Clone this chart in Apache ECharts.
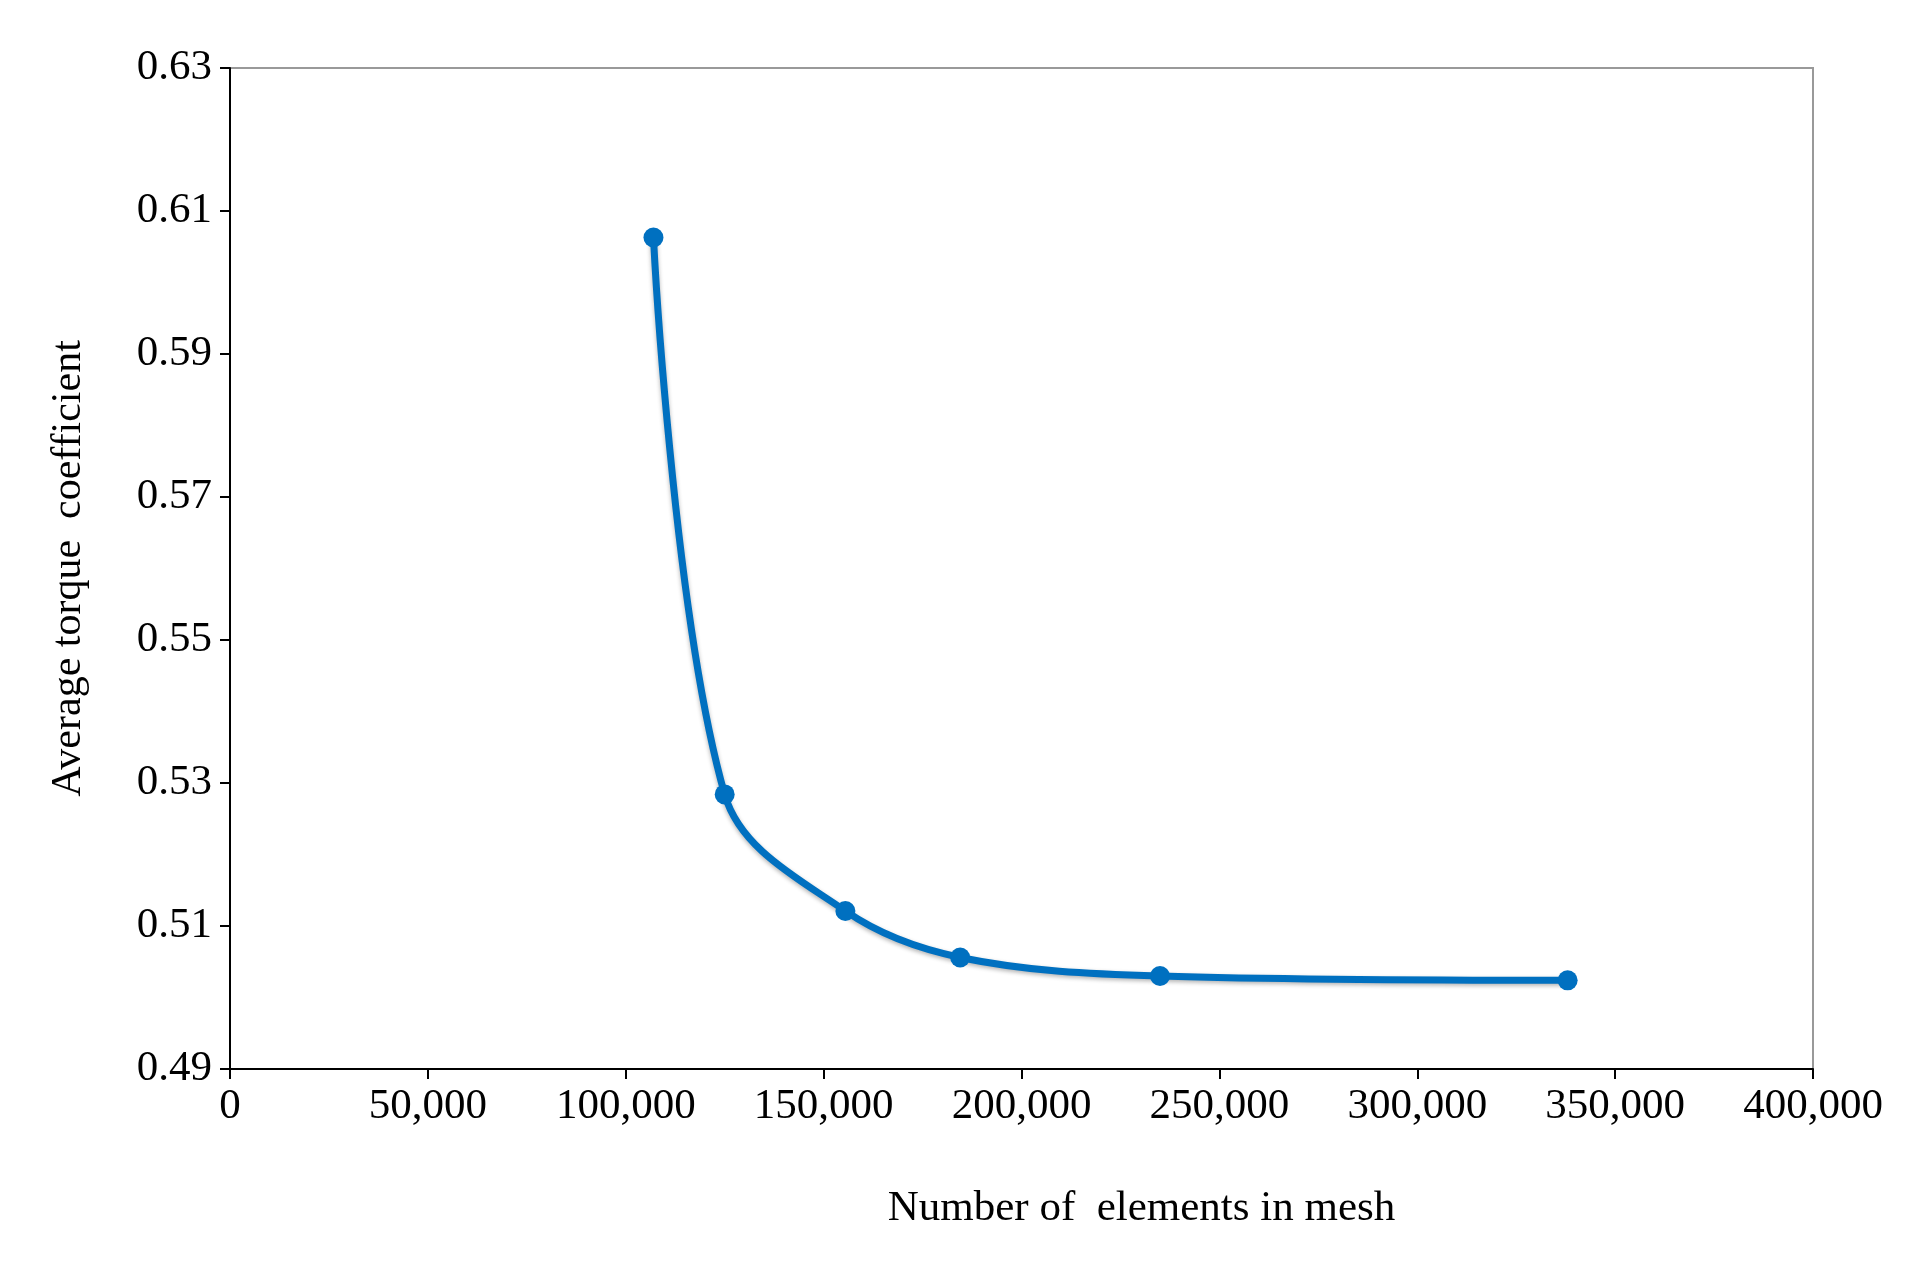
<!DOCTYPE html>
<html><head><meta charset="utf-8">
<script src="https://cdn.jsdelivr.net/npm/echarts@6/dist/echarts.min.js"></script>
<style>html,body{margin:0;padding:0;background:#fff}#c{width:1931px;height:1262px}</style>
</head><body><div id="c"></div>
<script>
const elements = [107000, 125000, 155500, 184500, 235000, 338000];
const torque = [0.6063, 0.5284, 0.5121, 0.5056, 0.5030, 0.5024];
const xTicks = {min: 0, max: 400000, interval: 50000};
const yTicks = {min: 0.49, max: 0.63, interval: 0.02};
const font = 'Liberation Serif';
const chart = echarts.init(document.getElementById('c'));
chart.setOption({
  backgroundColor: '#fff',
  grid: {left: 230, right: 118, top: 68, bottom: 193, show: true, borderColor: '#999', borderWidth: 2},
  xAxis: {
    type: 'value', min: xTicks.min, max: xTicks.max, interval: xTicks.interval,
    name: 'Number of  elements in mesh', nameLocation: 'middle', nameGap: 118,
    nameTextStyle: {fontFamily: font, fontSize: 43, color: '#000', padding: [0, 0, 0, 240]},
    axisLine: {lineStyle: {color: '#000', width: 2}},
    axisTick: {show: true, length: 10, lineStyle: {color: '#000', width: 2}},
    splitLine: {show: false},
    axisLabel: {fontFamily: font, fontSize: 43, color: '#000', margin: 16,
      formatter: v => v.toLocaleString('en-US')}
  },
  yAxis: {
    type: 'value', min: yTicks.min, max: yTicks.max, interval: yTicks.interval,
    name: 'Average torque  coefficient', nameLocation: 'middle', nameGap: 140,
    nameTextStyle: {fontFamily: font, fontSize: 42, color: '#000'},
    axisLine: {show: true, lineStyle: {color: '#000', width: 2}},
    axisTick: {show: true, length: 10, lineStyle: {color: '#000', width: 2}},
    splitLine: {show: false},
    axisLabel: {fontFamily: font, fontSize: 43, color: '#000', margin: 18,
      formatter: v => v.toFixed(2)}
  },
  series: [{
    type: 'line', smooth: 0.35,
    data: elements.map((x, i) => [x, torque[i]]),
    symbol: 'circle', symbolSize: 20,
    lineStyle: {color: '#0070C0', width: 7, shadowColor: 'rgba(0,0,0,0.3)', shadowBlur: 4, shadowOffsetY: 2},
    itemStyle: {color: '#0070C0'}
  }]
});
</script></body></html>
